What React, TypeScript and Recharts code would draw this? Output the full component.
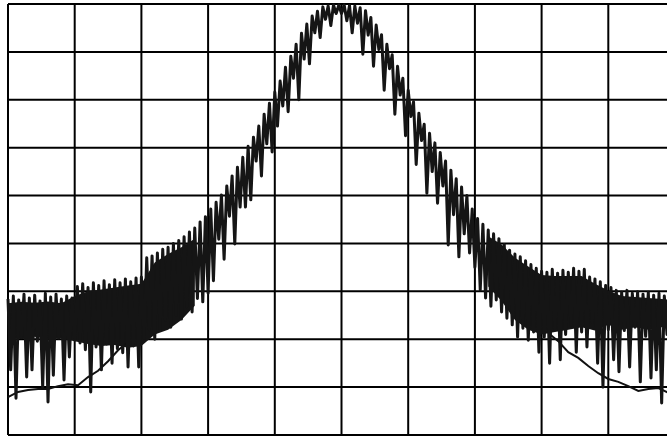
import { ComposedChart, Line, Area, XAxis, YAxis, CartesianGrid } from 'recharts';

// 10 horizontal divisions, 9 vertical divisions (10 units each)
const xTicks = [0, 10, 20, 30, 40, 50, 60, 70, 80, 90, 100];
const yTicks = [0, 10, 20, 30, 40, 50, 60, 70, 80, 90];

// noisy trace, sampled every 0.4 x-units (peaks and dips alternate)
const traceStep = 0.4;
const trace = [
  28.4, 13.6, 29.0, 7.7, 28.2, 20.4, 29.4, 12.1, 28.6, 13.6, 29.2, 19.6, 28.0, 10.0, 29.6, 6.9,
  28.8, 12.5, 29.4, 20.2, 28.4, 11.5, 29.0, 16.3, 28.6, 19.8,
  31.0, 19.2, 31.6, 17.8, 30.8, 9.0, 31.8, 18.4, 31.2, 13.6, 32.2, 19.0, 31.4, 15.0, 32.4, 18.0,
  31.8, 17.2, 32.6, 14.2, 32.0, 18.6, 32.8, 14.2, 33.0,
  20.2, 37.0, 22.0, 37.4, 20.0, 38.0, 21.9, 38.8, 24.0, 39.2, 22.5, 40.0, 25.0, 40.6, 24.2, 41.4,
  26.8, 42.4, 25.7, 43.2, 28.5, 44.5, 27.8, 45.6, 29.6,
  47.2, 32.2, 48.6, 40.9, 50.1, 36.7, 52.0, 45.7, 54.1, 39.9, 55.9, 47.6, 58.0, 47.6, 60.3, 49.1,
  62.2, 57.2, 64.5, 54.1, 67.0, 60.8, 69.3, 59.1, 71.6, 64.5, 73.9, 68.7, 76.8, 67.5, 79.1, 74.5,
  81.6, 70.0, 83.9, 78.5, 85.8, 77.5, 87.5, 84.0, 88.5, 83.0, 89.4, 86.8, 89.6, 85.5, 89.8, 88.0,
  89.8, 88.0,
  89.8, 86.5, 89.7, 84.0, 89.6, 86.0, 89.2, 79.5, 88.6, 83.5, 87.2, 77.0, 85.6, 80.5, 83.6, 72.0,
  81.6, 76.5, 79.4, 67.0, 77.0, 71.0, 74.5, 62.5, 72.0, 66.5, 69.6, 56.5, 67.2, 61.5, 64.9, 50.5,
  63.0, 55.0, 61.0, 48.4, 59.0, 52.0, 57.2, 39.7, 55.3, 46.0, 53.5, 37.2, 51.8, 42.0, 50.0, 38.0,
  47.2, 35.0,
  45.2, 30.3, 44.0, 28.6, 42.8, 26.9, 42.0, 28.2, 41.0, 25.7, 39.8, 24.4, 38.6, 23.0, 37.8, 20.5,
  37.2, 22.3, 36.4, 19.8, 35.6, 21.5, 34.8, 17.3, 34.2,
  20.5, 34.0, 15.0, 34.6, 22.0, 33.8, 15.7, 34.4, 21.0, 34.0, 23.0, 34.8, 17.3, 34.2, 21.5, 34.6,
  18.4, 33.0, 23.5, 32.6, 15.0, 32.0, 10.0, 31.2, 22.0, 30.8, 15.7, 30.2, 13.2, 29.8, 21.8, 30.2,
  14.2, 29.6, 22.5, 29.9, 11.1, 29.4, 20.6, 29.8, 11.9, 29.2, 13.6, 29.6, 6.7, 29.0, 21.0, 29.4,
  19.5, 29.0,
];

// dense solid core of the noise, left and right of the peak
const coreLeftX = [0, 2, 4, 6, 8, 10, 12, 14, 16, 18, 20, 22, 24, 26, 28];
const coreLeftTop = [27.5, 27.8, 27.6, 27.9, 27.5, 29.0, 30.0, 30.4, 30.8, 31.2, 31.6, 36.0, 37.8, 39.2, 41.0];
const coreLeftBottom = [20.5, 20.0, 20.5, 20.0, 20.2, 19.6, 19.0, 18.6, 18.8, 18.2, 18.6, 21.0, 22.0, 24.0, 27.0];
const coreRightX = [72, 74, 76, 78, 80, 82, 84, 86, 88, 90, 92, 94, 96, 98, 100];
const coreRightTop = [41.5, 39.8, 37.0, 35.2, 33.4, 33.2, 33.2, 33.2, 31.6, 30.2, 29.0, 28.8, 28.6, 28.4, 28.2];
const coreRightBottom = [31.0, 28.0, 24.0, 22.0, 21.0, 21.5, 22.0, 22.5, 21.8, 23.0, 22.0, 22.5, 22.0, 22.5, 23.0];

// smooth lower trace, visible only at the edges
const baseX = [0, 1.5, 3, 4.5, 6, 7.5, 9, 10.5, 12, 13.5, 15, 16.5, 18,
  50,
  81, 82.5, 84, 85.5, 87, 88.5, 90, 91.5, 93, 94.5, 96, 97.5, 99];
const baseY = [7.9, 9.0, 9.4, 9.6, 9.6, 10.2, 10.6, 10.4, 12.1, 13.4, 15.4, 17.7, 19.4,
  null,
  21.3, 19.6, 17.3, 16.1, 14.4, 12.9, 11.7, 11.1, 10.2, 9.2, 9.6, 9.8, 8.8];

const traceData = trace.map((v, i) => ({ x: +(i * traceStep).toFixed(2), v }));
const coreLeft = coreLeftX.map((x, i) => ({ x, core: [coreLeftBottom[i], coreLeftTop[i]] }));
const coreRight = coreRightX.map((x, i) => ({ x, core: [coreRightBottom[i], coreRightTop[i]] }));
const baseData = baseX.map((x, i) => ({ x, b: baseY[i] }));

export default function App() {
  return (
    <div style={{ position: 'absolute', left: 0, top: 0, width: 667, height: 436, overflow: 'hidden', background: '#fff' }}>
      <ComposedChart width={680} height={437} margin={{ top: 4, right: 5, bottom: 2, left: 8 }}>
        <CartesianGrid stroke="#000" strokeWidth={2} />
        <XAxis type="number" dataKey="x" domain={[0, 100]} ticks={xTicks} hide />
        <YAxis type="number" domain={[0, 90]} ticks={yTicks} hide />
        <Area data={coreLeft} dataKey="core" type="linear" stroke="none" fill="#151515" fillOpacity={1} isAnimationActive={false} />
        <Area data={coreRight} dataKey="core" type="linear" stroke="none" fill="#151515" fillOpacity={1} isAnimationActive={false} />
        <Line data={baseData} dataKey="b" type="linear" stroke="#111" strokeWidth={2} dot={false} isAnimationActive={false} />
        <Line data={traceData} dataKey="v" type="linear" stroke="#151515" strokeWidth={3} strokeLinejoin="round" dot={false} isAnimationActive={false} />
      </ComposedChart>
    </div>
  );
}
